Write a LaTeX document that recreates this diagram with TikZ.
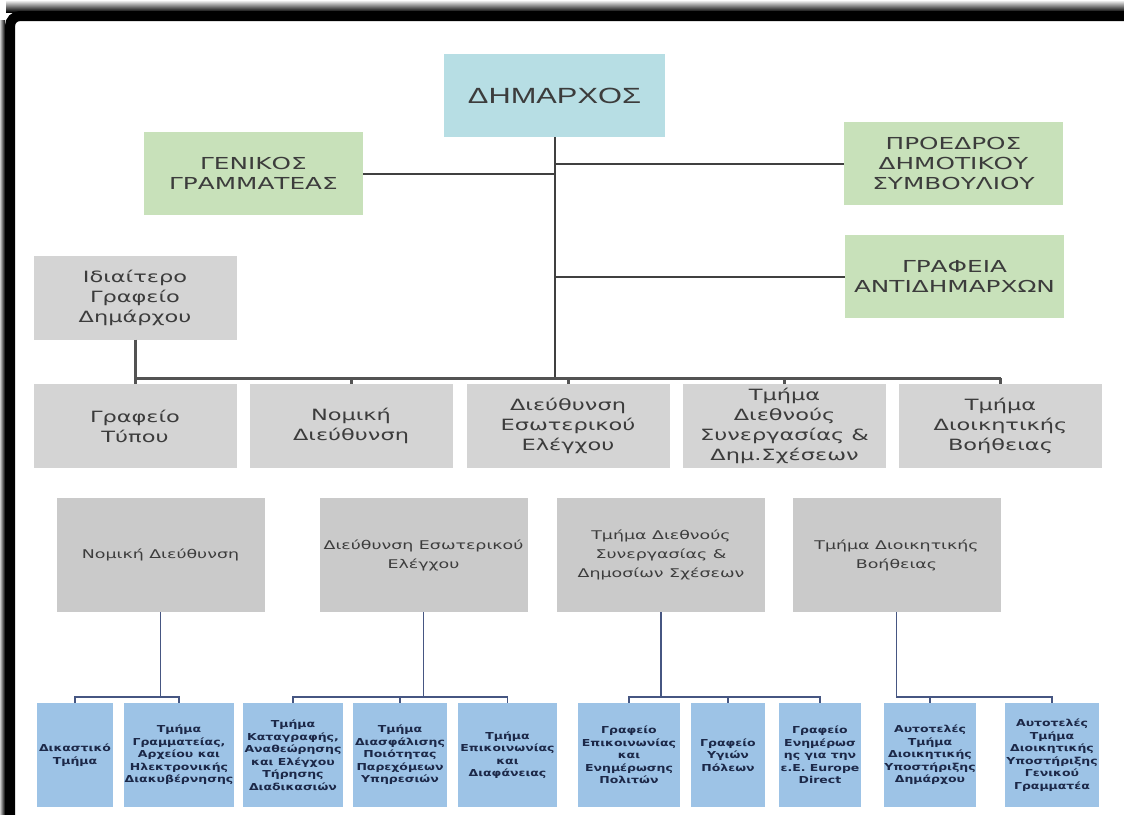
\documentclass[tikz,border=0pt]{standalone}
\usepackage{fontspec}
\usetikzlibrary{calc,positioning}
\newfontfamily\capsfont[FakeStretch=1.5]{DejaVu Sans}
\newfontfamily\boxfont[FakeStretch=1.45]{DejaVu Sans}
\newfontfamily\subfont[FakeStretch=1.3]{DejaVu Sans}
\newfontfamily\headfont[FakeStretch=1.4]{Liberation Sans}
\definecolor{hd}{RGB}{183,222,228}
\definecolor{gn}{RGB}{200,225,186}
\definecolor{gy}{RGB}{212,212,212}
\definecolor{gyd}{RGB}{202,202,202}
\definecolor{bl}{RGB}{157,195,230}
\definecolor{tx}{RGB}{60,60,60}
\definecolor{nv}{RGB}{28,40,72}
\definecolor{ln}{RGB}{64,64,64}
\definecolor{lnb}{RGB}{70,86,130}
\tikzset{
  box/.style={rectangle, inner sep=0pt, align=center, text=tx},
  headbox/.style={box, fill=hd, minimum width=221, minimum height=83,
    font=\headfont\fontsize{22}{26}\selectfont},
  greenbox/.style={box, fill=gn, minimum width=219, minimum height=83,
    font=\capsfont\fontsize{16.5}{20}\selectfont},
  graybox/.style={box, fill=gy, minimum width=203, minimum height=84,
    font=\boxfont\fontsize{15.5}{20}\selectfont},
  unitbox/.style={box, fill=gyd, minimum width=208, minimum height=114,
    font=\boxfont\fontsize{12}{19}\selectfont},
  subbox/.style={box, fill=bl, text=nv, minimum height=104,
    font=\subfont\bfseries\fontsize{9.6}{12.5}\selectfont},
  toplink/.style={draw=ln, line width=2},
  midlink/.style={draw=ln!90, line width=3},
  lowlink/.style={draw=lnb, line width=1.6}
}
\begin{document}
\begin{tikzpicture}[x=1pt,y=-1pt]
\fill[white] (0,0) rectangle (1124,814);
\useasboundingbox (0,0) rectangle (1124,814);
% frame
\shade[top color=white, bottom color=black, middle color=gray] (6,0) rectangle (1124,12);
\shade[left color=gray!40, right color=black] (0,20) rectangle (5,814);
\draw[line width=10, rounded corners=10] (10,830) -- (10,16) -- (1140,16);

\node[headbox] (dim) at (554.5,95.5) {ΔΗΜΑΡΧΟΣ};
\node[greenbox] (gg) at (253.5,173.5) {ΓΕΝΙΚΟΣ\\ΓΡΑΜΜΑΤΕΑΣ};
\node[greenbox] (pro) at (953.5,163.5) {ΠΡΟΕΔΡΟΣ\\ΔΗΜΟΤΙΚΟΥ\\ΣΥΜΒΟΥΛΙΟΥ};
\node[greenbox] (ant) at (954.5,276.5) {ΓΡΑΦΕΙΑ\\ΑΝΤΙΔΗΜΑΡΧΩΝ};
\node[graybox] (idi) at (135,297.5) {Ιδιαίτερο\\Γραφείο\\Δημάρχου};

\foreach \n/\x/\t in {typ/135/{Γραφείο\\Τύπου}, nom/351/{Νομική\\Διεύθυνση},
  ese/568/{Διεύθυνση\\Εσωτερικού\\Ελέγχου}, die/784.5/{Τμήμα\\Διεθνούς\\Συνεργασίας \&\\Δημ.Σχέσεων},
  dio/1000.5/{Τμήμα\\Διοικητικής\\Βοήθειας}}{
\node[graybox] (\n) at (\x,426) {\t};
}

\foreach \n/\x/\t in {nomd/160.5/{Νομική Διεύθυνση}, esed/423.5/{Διεύθυνση Εσωτερικού\\Ελέγχου},
  died/661/{Τμήμα Διεθνούς\\Συνεργασίας \&\\Δημοσίων Σχέσεων}, diod/896.5/{Τμήμα Διοικητικής\\Βοήθειας}}{
\node[unitbox] (\n) at (\x,555) {\t};
}

\foreach \n/\x/\w/\t in {dik/75/76/{Δικαστικό\\Τμήμα},
  gra/179/110/{Τμήμα\\Γραμματείας,\\Αρχείου και\\Ηλεκτρονικής\\Διακυβέρνησης},
  kat/293/100/{Τμήμα\\Καταγραφής,\\Αναθεώρησης\\και Ελέγχου\\Τήρησης\\Διαδικασιών},
  dia/400/94/{Τμήμα\\Διασφάλισης\\Ποιότητας\\Παρεχόμεων\\Υπηρεσιών},
  epi/507.5/99/{Τμήμα\\Επικοινωνίας\\και\\Διαφάνειας},
  gep/629/102/{Γραφείο\\Επικοινωνίας\\και\\Ενημέρωσης\\Πολιτών},
  gyp/728/74/{Γραφείο\\Υγιών\\Πόλεων},
  eur/820/82/{Γραφείο\\Ενημέρωσ\\ης για την\\ε.Ε. Europe\\Direct},
  aud/930/90/{Αυτοτελές\\Τμήμα\\Διοικητικής\\Υποστήριξης\\Δημάρχου},
  aug/1052/94/{Αυτοτελές\\Τμήμα\\Διοικητικής\\Υποστήριξης\\Γενικού\\Γραμματέα}}{
\node[subbox, minimum width=\w] (\n) at (\x,755) {\t};
}

\coordinate (bus) at (555,378);
\coordinate (lowbus) at (0,697);
\draw[toplink] (dim.south) -- (dim.south |- bus);
\draw[toplink] (gg.east) -- (gg.east -| dim.south);
\draw[toplink] (pro.west) -- (pro.west -| dim.south);
\draw[toplink] (ant.west) -- (ant.west -| dim.south);
\draw[midlink] (idi.south) -- (typ.north);
\draw[midlink] (typ.north |- bus) -- (dio.north |- bus);
\foreach \n in {nom,ese,die,dio}
  \draw[midlink] (\n.north) -- (\n.north |- bus);

\foreach \p/\a/\b in {nomd/dik/gra, esed/kat/epi, died/gep/eur}{
\draw[lowlink] (\p.south) -- (\p.south |- lowbus);
\draw[lowlink] (\a.north) -- (\a.north |- lowbus) -- (\b.north |- lowbus) -- (\b.north);
}
\draw[lowlink] (dia.north) -- (dia.north |- lowbus);
\draw[lowlink] (gyp.north) -- (gyp.north |- lowbus);
\draw[lowlink] (diod.south) -- (diod.south |- lowbus) -- (aug.north |- lowbus) -- (aug.north);
\draw[lowlink] (aud.north) -- (aud.north |- lowbus);
\end{tikzpicture}
\end{document}
